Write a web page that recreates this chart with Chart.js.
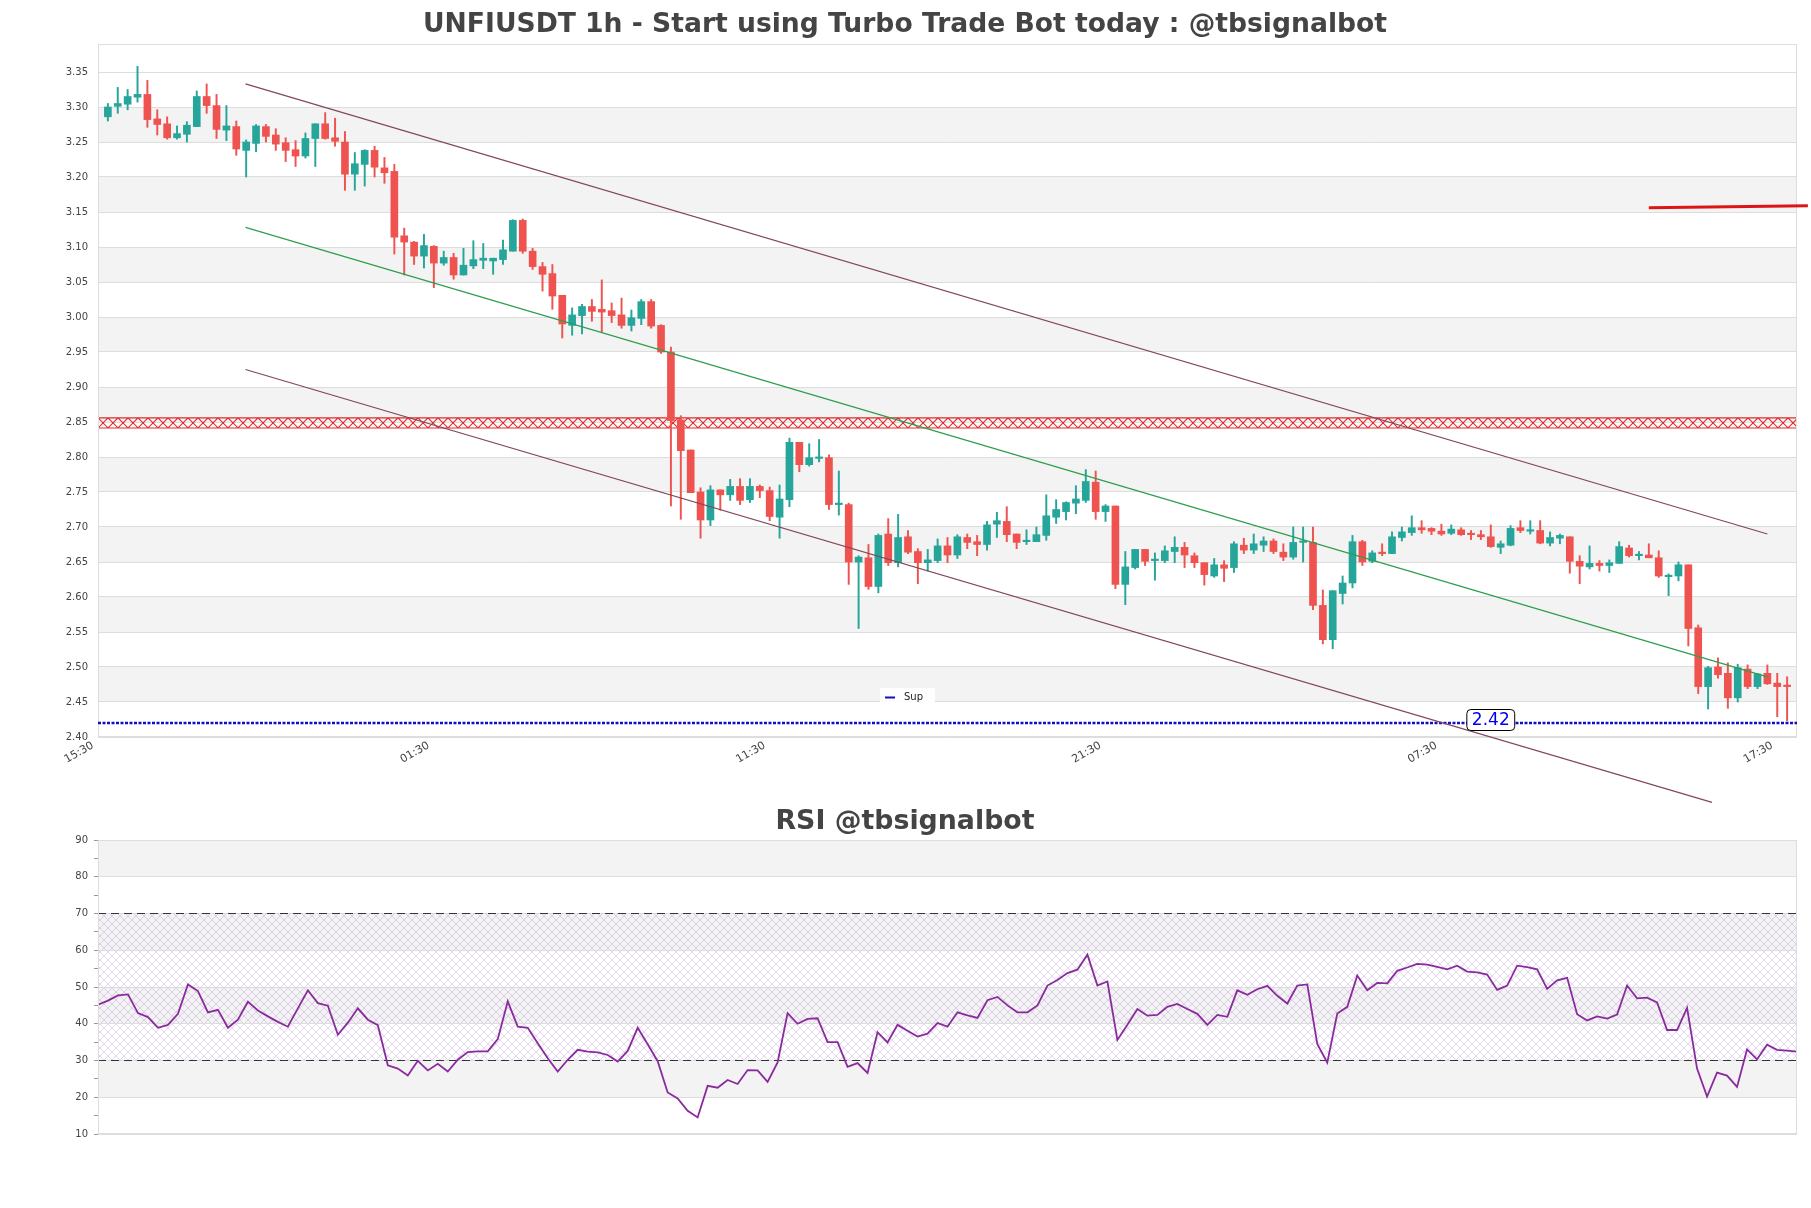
<!DOCTYPE html>
<html><head><meta charset="utf-8">
<script src="https://cdn.jsdelivr.net/npm/chart.js@4.4.1/dist/chart.umd.min.js"></script>
<style>
html,body{margin:0;padding:0;background:#fff;width:1811px;height:1208px;overflow:hidden;}
#c1{position:absolute;left:0;top:0;}
#c2{position:absolute;left:0;top:780px;}
</style></head><body>
<canvas id="c1" width="1811" height="820"></canvas>
<canvas id="c2" width="1811" height="428"></canvas>
<script>
const mainTitle = 'UNFIUSDT 1h - Start using Turbo Trade Bot today : @tbsignalbot';
const rsiTitle = 'RSI @tbsignalbot';
const xTickIdx = [0,34,68,102,136,170];
const xTickLabels = ['15:30','01:30','11:30','21:30','07:30','17:30'];
const yTicks = [2.40,2.45,2.50,2.55,2.60,2.65,2.70,2.75,2.80,2.85,2.90,2.95,3.00,3.05,3.10,3.15,3.20,3.25,3.30,3.35];

const opens = [3.286,3.301,3.304,3.314,3.318,3.283,3.276,3.256,3.261,3.272,
3.315,3.302,3.267,3.272,3.238,3.248,3.272,3.260,3.249,3.239,
3.230,3.255,3.276,3.256,3.250,3.204,3.218,3.238,3.213,3.208,
3.116,3.107,3.087,3.101,3.077,3.085,3.060,3.073,3.081,3.080,
3.082,3.094,3.138,3.094,3.072,3.062,3.031,2.988,3.002,3.015,
3.011,3.009,3.003,2.988,2.998,3.022,2.988,2.950,2.853,2.810,
2.750,2.710,2.753,2.746,2.758,2.739,2.758,2.752,2.714,2.739,
2.821,2.789,2.798,2.799,2.732,2.732,2.650,2.656,2.615,2.690,
2.649,2.686,2.665,2.649,2.652,2.673,2.660,2.685,2.679,2.675,
2.704,2.708,2.690,2.679,2.679,2.688,2.714,2.722,2.734,2.738,
2.764,2.722,2.730,2.618,2.642,2.668,2.652,2.652,2.665,2.671,
2.659,2.649,2.630,2.646,2.642,2.674,2.667,2.674,2.680,2.664,
2.657,2.678,2.678,2.588,2.539,2.605,2.620,2.679,2.651,2.663,
2.662,2.685,2.692,2.699,2.698,2.694,2.691,2.696,2.690,2.689,
2.686,2.671,2.674,2.699,2.694,2.695,2.677,2.684,2.686,2.651,
2.643,2.648,2.645,2.648,2.670,2.659,2.660,2.656,2.629,2.630,
2.646,2.556,2.472,2.500,2.491,2.456,2.497,2.472,2.491,2.477,
2.473];
const highs = [3.305,3.328,3.325,3.358,3.338,3.296,3.286,3.273,3.279,3.323,
3.333,3.318,3.302,3.280,3.253,3.275,3.275,3.269,3.256,3.252,
3.263,3.276,3.292,3.284,3.265,3.235,3.239,3.244,3.228,3.218,
3.127,3.108,3.118,3.102,3.094,3.091,3.098,3.109,3.105,3.084,
3.110,3.139,3.140,3.098,3.078,3.075,3.031,3.013,3.018,3.025,
3.053,3.020,3.027,3.010,3.025,3.025,2.989,2.957,2.859,2.810,
2.756,2.759,2.753,2.768,2.769,2.769,2.760,2.757,2.760,2.827,
2.821,2.819,2.825,2.803,2.780,2.734,2.659,2.675,2.690,2.712,
2.718,2.695,2.669,2.668,2.683,2.685,2.689,2.690,2.688,2.708,
2.721,2.729,2.690,2.696,2.700,2.746,2.739,2.736,2.759,2.782,
2.780,2.732,2.730,2.665,2.668,2.668,2.663,2.673,2.686,2.678,
2.663,2.649,2.655,2.652,2.679,2.684,2.690,2.686,2.683,2.676,
2.700,2.700,2.700,2.610,2.609,2.630,2.688,2.681,2.666,2.676,
2.693,2.700,2.716,2.709,2.699,2.704,2.703,2.699,2.695,2.695,
2.703,2.680,2.702,2.709,2.709,2.709,2.693,2.690,2.686,2.659,
2.673,2.652,2.653,2.679,2.674,2.665,2.676,2.666,2.633,2.650,
2.646,2.560,2.501,2.513,2.506,2.504,2.503,2.491,2.503,2.491,
2.486];
const lows = [3.280,3.291,3.296,3.307,3.271,3.260,3.254,3.254,3.250,3.272,
3.291,3.255,3.252,3.231,3.200,3.236,3.250,3.238,3.222,3.215,
3.227,3.215,3.254,3.244,3.181,3.181,3.187,3.200,3.191,3.090,
3.060,3.075,3.070,3.042,3.074,3.054,3.060,3.069,3.069,3.061,
3.075,3.094,3.091,3.068,3.037,3.011,2.970,2.974,2.976,2.994,
2.978,2.992,2.984,2.980,2.989,2.984,2.948,2.730,2.711,2.749,
2.684,2.702,2.724,2.738,2.732,2.735,2.742,2.709,2.684,2.729,
2.779,2.787,2.793,2.725,2.717,2.618,2.555,2.611,2.606,2.645,
2.643,2.662,2.619,2.637,2.649,2.649,2.655,2.669,2.659,2.667,
2.685,2.679,2.669,2.675,2.679,2.681,2.705,2.710,2.719,2.735,
2.711,2.708,2.612,2.589,2.640,2.645,2.624,2.649,2.649,2.642,
2.642,2.617,2.628,2.622,2.635,2.662,2.662,2.665,2.662,2.652,
2.654,2.650,2.582,2.533,2.526,2.590,2.613,2.645,2.649,2.659,
2.662,2.680,2.688,2.691,2.689,2.688,2.689,2.688,2.682,2.682,
2.671,2.662,2.673,2.692,2.690,2.676,2.673,2.676,2.634,2.619,
2.640,2.637,2.635,2.648,2.657,2.653,2.656,2.628,2.602,2.623,
2.530,2.462,2.440,2.484,2.441,2.450,2.469,2.469,2.475,2.429,
2.423];
const closes = [3.300,3.305,3.315,3.318,3.282,3.275,3.256,3.262,3.274,3.315,
3.302,3.268,3.273,3.240,3.250,3.273,3.258,3.247,3.238,3.230,
3.255,3.276,3.255,3.251,3.204,3.219,3.238,3.214,3.206,3.114,
3.107,3.087,3.102,3.077,3.085,3.060,3.074,3.082,3.084,3.084,
3.096,3.138,3.094,3.072,3.061,3.030,2.990,3.003,3.015,3.008,
3.007,3.002,2.988,2.999,3.022,2.987,2.950,2.852,2.809,2.749,
2.710,2.753,2.746,2.758,2.738,2.758,2.752,2.715,2.740,2.821,
2.789,2.799,2.800,2.732,2.733,2.650,2.657,2.615,2.688,2.649,
2.685,2.664,2.649,2.653,2.673,2.660,2.686,2.678,2.675,2.703,
2.709,2.689,2.678,2.681,2.689,2.716,2.725,2.735,2.740,2.765,
2.722,2.730,2.618,2.643,2.668,2.651,2.653,2.666,2.671,2.660,
2.649,2.632,2.646,2.641,2.676,2.667,2.676,2.680,2.665,2.657,
2.678,2.679,2.588,2.539,2.609,2.620,2.679,2.650,2.663,2.662,
2.686,2.693,2.699,2.696,2.694,2.690,2.697,2.689,2.689,2.686,
2.672,2.676,2.698,2.695,2.695,2.677,2.685,2.688,2.651,2.644,
2.648,2.645,2.649,2.672,2.659,2.660,2.656,2.630,2.631,2.646,
2.555,2.472,2.499,2.489,2.456,2.499,2.472,2.490,2.476,2.472,
2.472];

const upperChannel = [[13.93,3.333],[168.0,2.690]];
const midChannel = [[13.93,3.128],[168.0,2.486]];
const lowerChannel = [[13.93,2.925],[162.4,2.3066]];
const resistanceLine = [[156.0,3.156],[172.1,3.159]];
const hatchZone = [2.8415, 2.856];
const supLevel = 2.42;
const supLabelAt = 140.0;
const supName = 'Sup';

const rsiValues = [45.2,46.3,47.7,48.0,42.9,41.8,38.9,39.7,42.7,50.7,
48.9,43.1,43.8,38.9,41.1,46.0,43.6,42.0,40.5,39.2,
44.2,49.1,45.6,44.9,37.0,40.3,44.2,41.1,39.6,28.7,
27.8,25.9,29.9,27.3,29.1,27.0,30.2,32.3,32.5,32.5,
35.8,46.1,39.2,38.9,34.7,30.6,27.0,30.2,32.9,32.4,
32.2,31.5,29.7,32.6,38.9,34.4,29.8,21.3,19.7,16.3,
14.5,23.1,22.6,24.7,23.6,27.4,27.3,24.2,29.5,42.9,
40.0,41.3,41.5,35.0,35.0,28.3,29.3,26.6,37.7,34.9,
39.7,38.1,36.5,37.3,40.2,39.2,43.1,42.3,41.6,46.4,
47.3,45.0,43.1,43.1,45.0,50.4,51.9,53.8,54.7,58.8,
50.4,51.5,35.6,39.7,44.0,42.2,42.4,44.6,45.4,44.0,
42.7,39.7,42.4,41.9,49.1,47.9,49.4,50.3,47.6,45.5,
50.4,50.7,34.5,29.4,42.8,44.6,53.1,49.1,51.1,51.0,
54.4,55.3,56.3,56.1,55.5,54.8,55.8,54.2,54.0,53.4,
49.2,50.4,55.8,55.4,54.8,49.5,51.8,52.5,42.6,40.9,
42.0,41.4,42.5,50.4,46.9,47.1,45.8,38.3,38.3,44.3,
27.8,20.2,26.7,25.9,22.8,33.0,30.3,34.3,32.9,32.7,
32.4];
const rsiTicks = [10,20,30,40,50,60,70,80,90];
const rsiLevels = [70,30];
const rsiZone = [30,70];

/* ---------- styling ---------- */
const UP = '#26a69a', DOWN = '#ef5350';
const FONT = '"DejaVu Sans", sans-serif';
Chart.defaults.font.family = FONT;
Chart.defaults.animation = false;

const idx = opens.map((_, i) => i);
const candleColors = idx.map(i => closes[i] >= opens[i] ? UP : DOWN);
const pts = arr => arr.map(p => ({x: p[0], y: p[1]}));

function hatchPattern(ctx, color, size, lw) {
  const c = document.createElement('canvas');
  c.width = size; c.height = size;
  const g = c.getContext('2d');
  g.strokeStyle = color; g.lineWidth = lw;
  g.beginPath();
  g.moveTo(0, 0); g.lineTo(size, size);
  g.moveTo(size, 0); g.lineTo(0, size);
  g.stroke();
  return ctx.createPattern(c, 'repeat');
}

const mainDecor = {
  id: 'mainDecor',
  beforeDraw(chart) {
    const {ctx, chartArea: a} = chart;
    const y = chart.scales.y;
    ctx.save();
    ctx.fillStyle = '#f3f3f3';
    for (let k = 0; k < yTicks.length - 1; k++) {
      if (k % 2 === 1) {
        const t = y.getPixelForValue(yTicks[k + 1]), b = y.getPixelForValue(yTicks[k]);
        ctx.fillRect(a.left, t, a.right - a.left, b - t);
      }
    }
    ctx.restore();
  },
  beforeDatasetsDraw(chart) {
    const {ctx, chartArea: a} = chart;
    const y = chart.scales.y;
    const t = y.getPixelForValue(hatchZone[1]), b = y.getPixelForValue(hatchZone[0]);
    ctx.save();
    ctx.beginPath(); ctx.rect(a.left, a.top, a.right - a.left, a.bottom - a.top); ctx.clip();
    ctx.strokeStyle = 'rgba(222,25,25,0.9)';
    ctx.lineWidth = 1.15;
    const step = 10;
    ctx.beginPath();
    for (let x = a.left; x < a.right; x += step) {
      ctx.moveTo(x, t); ctx.lineTo(x + step, b);
      ctx.moveTo(x + step, t); ctx.lineTo(x, b);
    }
    ctx.moveTo(a.left, t); ctx.lineTo(a.right, t);
    ctx.moveTo(a.left, b); ctx.lineTo(a.right, b);
    ctx.stroke();
    ctx.restore();
    ctx.save();
    ctx.strokeStyle = '#dddddd'; ctx.lineWidth = 1;
    ctx.strokeRect(a.left + 0.5, a.top + 0.5, a.right - a.left - 1, a.bottom - a.top - 1);
    ctx.restore();
  },
  afterDraw(chart) {
    const {ctx} = chart;
    const xs = chart.scales.x, y = chart.scales.y;
    ctx.save();
    ctx.fillStyle = '#444444';
    ctx.font = 'bold 26.6px ' + FONT;
    ctx.textAlign = 'center'; ctx.textBaseline = 'middle';
    ctx.fillText(mainTitle, 905, 25);
    // support label
    const lx = xs.getPixelForValue(supLabelAt), ly = y.getPixelForValue(supLevel) - 3;
    ctx.font = '17px ' + FONT;
    const txt = supLevel.toFixed(2);
    const w = ctx.measureText(txt).width + 10, h = 21;
    ctx.beginPath();
    ctx.roundRect(lx - w / 2, ly - h / 2, w, h, 4);
    ctx.fillStyle = '#ffffff'; ctx.fill();
    ctx.strokeStyle = '#000000'; ctx.lineWidth = 1; ctx.stroke();
    ctx.fillStyle = '#0000ee';
    ctx.fillText(txt, lx, ly + 1);
    // legend
    ctx.fillStyle = 'rgba(255,255,255,0.9)';
    ctx.fillRect(880, 688, 55, 18);
    ctx.strokeStyle = '#1010c0'; ctx.lineWidth = 2;
    ctx.beginPath(); ctx.moveTo(885, 697.5); ctx.lineTo(895, 697.5); ctx.stroke();
    ctx.fillStyle = '#222'; ctx.font = '10px ' + FONT; ctx.textAlign = 'left';
    ctx.fillText(supName, 904, 697.5);
    ctx.restore();
  }
};

const c1 = document.getElementById('c1');
new Chart(c1, {
  type: 'bar',
  data: {
    datasets: [
      {type: 'line', data: pts(upperChannel), borderColor: '#84465a', borderWidth: 1.2, pointRadius: 0, order: 0, clip: false},
      {type: 'line', data: pts(midChannel), borderColor: '#2e9e50', borderWidth: 1.2, pointRadius: 0, order: 0, clip: false},
      {type: 'line', data: pts(lowerChannel), borderColor: '#84465a', borderWidth: 1.2, pointRadius: 0, order: 0, clip: false},
      {type: 'line', data: pts(resistanceLine), borderColor: '#dd1515', borderWidth: 3, pointRadius: 0, order: 0, clip: false},
      {type: 'line', data: [{x: -1, y: supLevel}, {x: 171, y: supLevel}], borderColor: '#1010c0', borderWidth: 2.5, borderDash: [3, 1.5], pointRadius: 0, order: 0},
      {type: 'bar', data: idx.map(i => ({x: i, y: [opens[i], closes[i]]})), backgroundColor: candleColors, barThickness: 7, minBarLength: 1.5, grouped: false, order: 1},
      {type: 'bar', data: idx.map(i => ({x: i, y: [lows[i], highs[i]]})), backgroundColor: candleColors, barThickness: 1.3, grouped: false, order: 2}
    ]
  },
  options: {
    responsive: false,
    animation: false,
    layout: {padding: {left: 0, right: 14, top: 44, bottom: 0}},
    plugins: {legend: {display: false}, tooltip: {enabled: false}, title: {display: false}},
    scales: {
      x: {
        type: 'linear', min: -1, max: 171, offset: false,
        afterBuildTicks: s => { s.ticks = xTickIdx.map(v => ({value: v})); },
        afterFit: s => { s.height = 820 - 737; },
        grid: {display: false}, border: {display: false},
        ticks: {autoSkip: false, minRotation: 30, maxRotation: 30, labelOffset: -15, padding: -6,
          color: '#444', font: {size: 11},
          callback: v => xTickLabels[xTickIdx.indexOf(v)]}
      },
      y: {
        type: 'linear', min: 2.40, max: 3.39,
        afterBuildTicks: s => { s.ticks = yTicks.map(v => ({value: v})); },
        afterFit: s => { s.width = 98; },
        grid: {color: '#dddddd', drawTicks: false}, border: {display: false},
        ticks: {padding: 10, color: '#444', font: {size: 10}, callback: v => Number(v).toFixed(2)}
      }
    }
  },
  plugins: [mainDecor]
});

/* ---------- RSI ---------- */
const rsiDecor = {
  id: 'rsiDecor',
  beforeDraw(chart) {
    const {ctx, chartArea: a} = chart;
    const y = chart.scales.y;
    ctx.save();
    ctx.fillStyle = '#f3f3f3';
    for (let k = 0; k < rsiTicks.length - 1; k++) {
      if (k % 2 === 1) {
        const t = y.getPixelForValue(rsiTicks[k + 1]), b = y.getPixelForValue(rsiTicks[k]);
        ctx.fillRect(a.left, t, a.right - a.left, b - t);
      }
    }
    const t = y.getPixelForValue(rsiZone[1]), b = y.getPixelForValue(rsiZone[0]);
    ctx.fillStyle = hatchPattern(ctx, 'rgba(175,140,205,0.5)', 8, 0.7);
    ctx.fillRect(a.left, t, a.right - a.left, b - t);
    ctx.restore();
  },
  afterDraw(chart) {
    const {ctx, chartArea: a} = chart;
    ctx.save();
    ctx.strokeStyle = '#dddddd'; ctx.lineWidth = 1;
    ctx.strokeRect(a.left + 0.5, a.top + 0.5, a.right - a.left - 1, a.bottom - a.top - 1);
    ctx.fillStyle = '#444444';
    ctx.font = 'bold 26.8px ' + FONT;
    ctx.textAlign = 'center'; ctx.textBaseline = 'middle';
    ctx.fillText(rsiTitle, 905, 42.5);
    ctx.restore();
  }
};

const rsiAllTicks = [];
for (let k = 0; k < rsiTicks.length; k++) {
  rsiAllTicks.push(rsiTicks[k]);
  if (k < rsiTicks.length - 1) rsiAllTicks.push((rsiTicks[k] + rsiTicks[k + 1]) / 2);
}

const c2 = document.getElementById('c2');
new Chart(c2, {
  type: 'line',
  data: {
    datasets: [
      {data: rsiValues.map((v, i) => ({x: i, y: v})), borderColor: '#8b2a9e', borderWidth: 1.8, pointRadius: 0, order: 0},
      ...rsiLevels.map(l => ({data: [{x: 0, y: l}, {x: rsiValues.length - 1, y: l}], borderColor: '#333333', borderWidth: 1.2, borderDash: [8, 5], pointRadius: 0, order: 1}))
    ]
  },
  options: {
    responsive: false,
    animation: false,
    layout: {padding: {left: 0, right: 14, top: 60, bottom: 74}},
    plugins: {legend: {display: false}, tooltip: {enabled: false}},
    scales: {
      x: {type: 'linear', min: 0, max: rsiValues.length - 1, display: false},
      y: {
        type: 'linear', min: 10, max: 90,
        afterBuildTicks: s => { s.ticks = rsiAllTicks.map(v => ({value: v})); },
        afterFit: s => { s.width = 98; },
        grid: {
          color: c => rsiTicks.includes(c.tick.value) ? '#dddddd' : 'rgba(0,0,0,0)',
          tickColor: '#999999', tickLength: 4, drawTicks: true
        },
        border: {display: false},
        ticks: {padding: 6, color: '#444', font: {size: 10}, autoSkip: false,
          callback: v => rsiTicks.includes(v) ? String(v) : ''}
      }
    }
  },
  plugins: [rsiDecor]
});
</script></body></html>
